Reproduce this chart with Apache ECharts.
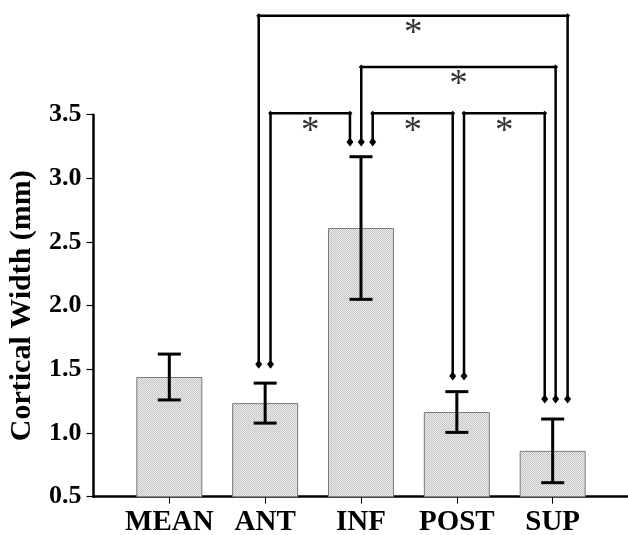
<!DOCTYPE html>
<html>
<head>
<meta charset="utf-8">
<script src="https://cdn.jsdelivr.net/npm/echarts@6/dist/echarts.min.js"></script>
<style>
  html, body { margin: 0; padding: 0; background: #fff; }
  #main { width: 628px; height: 535px; }
</style>
</head>
<body>
<div id="main"></div>
<script>
// data
var categories = ['MEAN', 'ANT', 'INF', 'POST', 'SUP'];
var means = [1.44, 1.235, 2.61, 1.165, 0.86];
var errors = [0.18, 0.157, 0.56, 0.16, 0.25];
var yTicks = [0.5, 1.0, 1.5, 2.0, 2.5, 3.0, 3.5];

// significance brackets: [xStart, yStart, xEnd, yEnd, yTop] in axis units
var brackets = [
  [0.933, 1.54, 4.156, 1.267, 4.278],
  [2.003, 3.286, 4.031, 1.267, 3.875],
  [1.056, 1.54, 1.885, 3.286, 3.512],
  [2.122, 3.286, 2.957, 1.448, 3.512],
  [3.075, 1.448, 3.917, 1.267, 3.512]
];

var serif = '"Liberation Serif", "Times New Roman", serif';

// dotted fill like the original hatch
var pat = document.createElement('canvas');
pat.width = 2; pat.height = 2;
var pctx = pat.getContext('2d');
pctx.fillStyle = '#f0f0f0'; pctx.fillRect(0, 0, 2, 2);
pctx.fillStyle = '#c2c2c2';
pctx.fillRect(0, 0, 1, 1); pctx.fillRect(1, 1, 1, 1);

var myChart = echarts.init(document.getElementById('main'));

var barData = means.map(function (v, i) { return [i, v]; });
var errData = means.map(function (v, i) { return [i, v - errors[i], v + errors[i]]; });

var bracketSeries = brackets.map(function (b) {
  return {
    type: 'line',
    clip: false,
    silent: true,
    data: [[b[0], b[1]], [b[0], b[4]], [b[2], b[4]], [b[2], b[3]]],
    symbol: 'diamond',
    symbolSize: function (val, p) { return (p.dataIndex === 0 || p.dataIndex === 3) ? [7, 9] : 5; },
    itemStyle: { color: '#000' },
    lineStyle: { color: '#000', width: 2.5 },
    z: 5
  };
});

var starData = brackets.map(function (b) { return [(b[0] + b[2]) / 2, b[4] - 0.1]; });

var option = {
  animation: false,
  grid: { left: 93.5, right: 0, top: 114.7, bottom: 38.3, outerBoundsMode: 'none', containLabel: false },
  xAxis: {
    type: 'value',
    min: -0.791,
    max: 4.786,
    splitLine: { show: false },
    axisLine: { onZero: false, lineStyle: { color: '#000', width: 2.5 } },
    axisTick: { customValues: [0, 1, 2, 3, 4], length: 7, lineStyle: { color: '#000', width: 1 } },
    axisLabel: {
      customValues: [0, 1, 2, 3, 4],
      formatter: function (v) { return categories[Math.round(v)]; },
      color: '#000', fontFamily: serif, fontWeight: 'bold', fontSize: 29, margin: 11
    }
  },
  yAxis: {
    type: 'value',
    min: yTicks[0],
    max: yTicks[yTicks.length - 1],
    interval: 0.5,
    name: 'Cortical Width (mm)',
    nameLocation: 'middle',
    nameGap: 56,
    nameTextStyle: { color: '#000', fontFamily: serif, fontWeight: 'bold', fontSize: 30 },
    splitLine: { show: false },
    axisLine: { show: true, onZero: false, lineStyle: { color: '#000', width: 2.5 } },
    axisTick: { show: true, length: 7, lineStyle: { color: '#000', width: 1.2 } },
    axisLabel: {
      color: '#000', fontFamily: serif, fontWeight: 'bold', fontSize: 26, margin: 12,
      formatter: function (v) { return v.toFixed(1); }
    }
  },
  series: [
    {
      type: 'bar',
      data: barData,
      barWidth: 66,
      itemStyle: { color: { image: pat, repeat: 'repeat' }, borderColor: '#7a7a7a', borderWidth: 1 },
      z: 2
    },
    {
      type: 'custom',
      data: errData,
      z: 4,
      renderItem: function (params, api) {
        var x = api.value(0);
        var lo = api.coord([x, api.value(1)]);
        var hi = api.coord([x, api.value(2)]);
        var hw = 11.5;
        var st = { stroke: '#000', lineWidth: 3 };
        return {
          type: 'group',
          children: [
            { type: 'line', shape: { x1: lo[0], y1: lo[1], x2: hi[0], y2: hi[1] }, style: st },
            { type: 'line', shape: { x1: hi[0] - hw, y1: hi[1], x2: hi[0] + hw, y2: hi[1] }, style: st },
            { type: 'line', shape: { x1: lo[0] - hw, y1: lo[1], x2: lo[0] + hw, y2: lo[1] }, style: st }
          ]
        };
      }
    }
  ].concat(bracketSeries).concat([
    {
      type: 'scatter',
      clip: false,
      silent: true,
      data: starData,
      symbolSize: 0,
      label: {
        show: true, position: 'inside', formatter: '*', offset: [0, 6],
        color: '#000', fontFamily: serif, fontSize: 37
      },
      z: 6
    }
  ])
};

myChart.setOption(option);
</script>
</body>
</html>
